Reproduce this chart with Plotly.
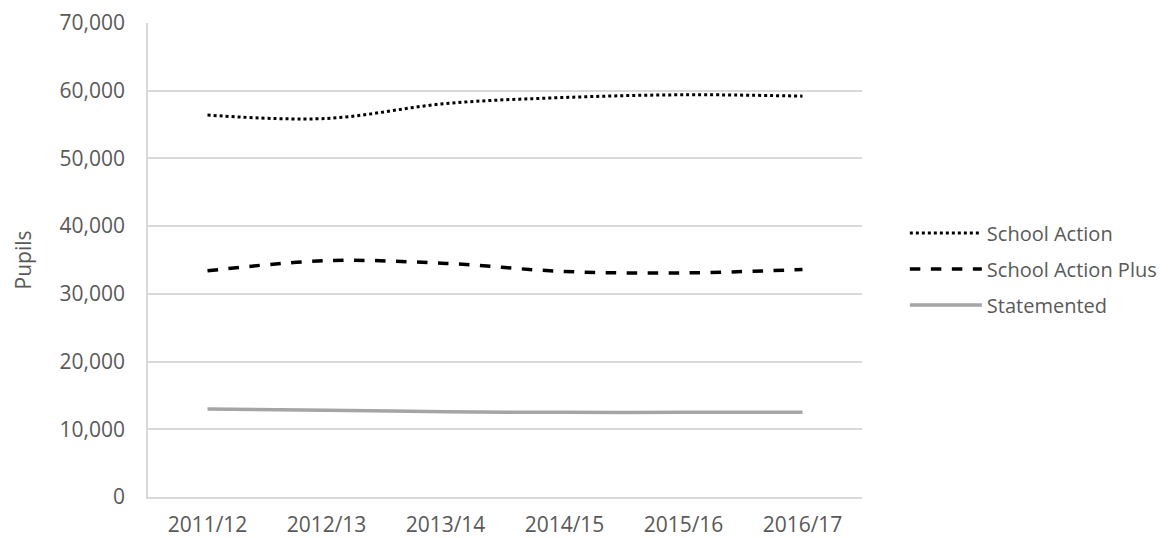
import plotly.graph_objects as go

years = ["2011/12", "2012/13", "2013/14", "2014/15", "2015/16", "2016/17"]
school_action = [56400, 55900, 58100, 59000, 59400, 59200]
school_action_plus = [33400, 34900, 34500, 33300, 33100, 33600]
statemented = [13000, 12800, 12600, 12500, 12500, 12500]

FONT = "Open Sans"
TXT = "#595959"
GRID = "#D9D9D9"
FS = 21

fig = go.Figure()
fig.add_trace(go.Scatter(x=years, y=school_action, name="School Action", mode="lines",
                         line=dict(color="black", width=3, dash="dot", shape="spline"),
                         legendgroup="a"))
fig.add_trace(go.Scatter(x=years, y=school_action_plus, name="School Action Plus", mode="lines",
                         line=dict(color="black", width=3.5, dash="dash", shape="spline"),
                         legendgroup="b"))
fig.add_trace(go.Scatter(x=years, y=statemented, name="Statemented", mode="lines",
                         line=dict(color="#A5A5A5", width=3.5, shape="spline"),
                         legendgroup="c"))

fig.update_layout(
    width=1166, height=530,
    margin=dict(l=140, r=312, t=15, b=41),
    paper_bgcolor="white", plot_bgcolor="white",
    font=dict(family=FONT, size=FS, color=TXT),
    showlegend=True,
    legend=dict(x=1.06, y=0.481, xanchor="left", yanchor="middle",
                font=dict(family=FONT, size=20, color=TXT),
                tracegroupgap=7, itemwidth=72, bgcolor="rgba(0,0,0,0)"),
)
fig.update_xaxes(type="category", range=[-0.5, 5.5], automargin=False,
                 showgrid=False, showline=True, linecolor=GRID, linewidth=1.5,
                 ticks="", ticklabelstandoff=8, tickfont=dict(size=FS, color=TXT))
fig.update_yaxes(range=[0, 70000], dtick=10000, tickformat=",", automargin=False,
                 showgrid=True, gridcolor=GRID, gridwidth=1.5,
                 showline=True, linecolor=GRID, linewidth=1.5, zeroline=False,
                 ticks="", ticklabelstandoff=17, tickfont=dict(size=FS, color=TXT),
                 title=dict(text="Pupils", font=dict(size=FS, color=TXT), standoff=22))

fig.write_html("out.html", config={"displayModeBar": False})
